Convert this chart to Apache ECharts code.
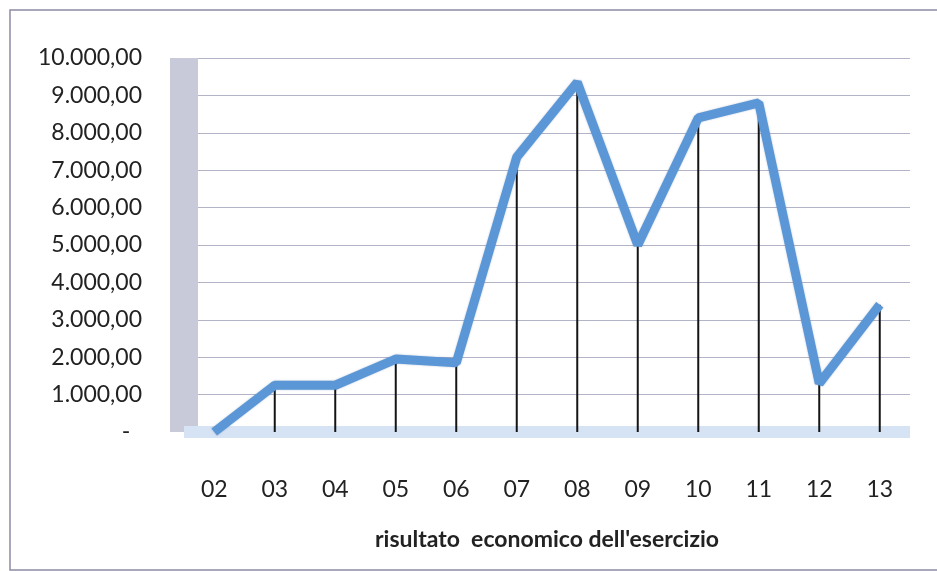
<!DOCTYPE html>
<html>
<head>
<meta charset="utf-8">
<script src="https://cdn.jsdelivr.net/npm/echarts@6/dist/echarts.min.js"></script>
<style>
  html, body { margin: 0; padding: 0; background: #fff; }
  #chart { width: 937px; height: 571px; }
</style>
</head>
<body>
<div id="chart"></div>
<script>
// anni (esercizi) e risultato economico
const years = ["02", "03", "04", "05", "06", "07", "08", "09", "10", "11", "12", "13"];
const risultato = [0, 1250, 1250, 1950, 1850, 7350, 9350, 5000, 8400, 8800, 1300, 3400];
const yTicks = [0, 1000, 2000, 3000, 4000, 5000, 6000, 7000, 8000, 9000, 10000];

function formatIt(v) {
  if (v === 0) return "-  ";
  const s = String(Math.round(v)).replace(/\B(?=(\d{3})+(?!\d))/g, ".");
  return s + ",00";
}

const myChart = echarts.init(document.getElementById("chart"));
myChart.setOption({
  backgroundColor: "#fff",
  animation: false,
  textStyle: { fontFamily: "Lato" },
  graphic: [
    {
      type: "rect",
      shape: { x: 10, y: 10, width: 940, height: 560 },
      style: { fill: "none", stroke: "#8c8ca4", lineWidth: 1.5 },
      silent: true,
    },
  ],
  grid: {
    left: 184,
    right: 27,
    top: 58,
    bottom: 139,
  },
  xAxis: {
    type: "category",
    data: years,
    boundaryGap: true,
    name: "risultato  economico dell'esercizio",
    nameLocation: "middle",
    nameGap: 96,
    nameTextStyle: {
      color: "#222",
      fontSize: 23,
      fontWeight: "bold",
      fontFamily: "Lato",
    },
    axisLine: {
      show: true,
      lineStyle: { color: "#d6e3f4", width: 12, cap: "butt" },
    },
    axisTick: { show: false },
    axisLabel: {
      color: "#222",
      fontSize: 23,
      margin: 46,
    },
    splitLine: { show: false },
  },
  yAxis: {
    type: "value",
    min: 0,
    max: 10000,
    interval: 1000,
    axisLine: {
      show: true,
      lineStyle: { color: "#c9cad9", width: 28, cap: "butt" },
    },
    axisTick: { show: false },
    axisLabel: {
      color: "#222",
      fontSize: 23,
      margin: 42,
      formatter: function (v) {
        return yTicks.indexOf(v) >= 0 ? formatIt(v) : "";
      },
    },
    splitLine: {
      lineStyle: { color: "#b4b4c8", width: 1.2 },
    },
  },
  series: [
    {
      name: "linee",
      type: "bar",
      data: risultato,
      barWidth: 2,
      itemStyle: { color: "#151515" },
      z: 2,
    },
    {
      name: "risultato economico",
      type: "line",
      data: risultato,
      symbol: "none",
      lineStyle: {
        color: "#5b97d6",
        width: 9,
        shadowColor: "rgba(40,80,140,0.35)",
        shadowBlur: 2,
      },
      z: 3,
    },
  ],
});
window.addEventListener("resize", function () {
  myChart.resize();
});
</script>
</body>
</html>
